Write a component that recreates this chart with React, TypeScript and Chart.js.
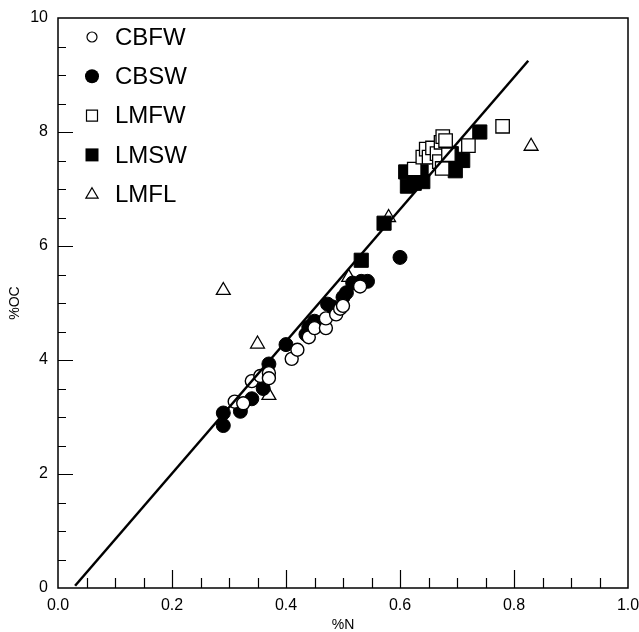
import React, { useEffect, useRef } from 'react';
import { Chart, registerables } from 'chart.js';

Chart.register(...registerables);

// ---- data ----
const seriesNames = ['CBFW', 'CBSW', 'LMFW', 'LMSW', 'LMFL'];

const cbfwX = [0.31, 0.325, 0.34, 0.355, 0.37, 0.37, 0.41, 0.42, 0.44, 0.45, 0.47, 0.47, 0.488, 0.495, 0.50, 0.53];
const cbfwY = [3.27, 3.24, 3.63, 3.72, 3.77, 3.68, 4.02, 4.18, 4.40, 4.56, 4.56, 4.73, 4.80, 4.90, 4.95, 5.29];

const cbswX = [0.29, 0.29, 0.32, 0.34, 0.36, 0.37, 0.40, 0.435, 0.44, 0.45, 0.46, 0.473, 0.482, 0.50, 0.506, 0.517, 0.532, 0.543, 0.60];
const cbswY = [2.85, 3.07, 3.10, 3.32, 3.50, 3.93, 4.27, 4.45, 4.58, 4.68, 4.65, 4.98, 4.93, 5.10, 5.18, 5.35, 5.38, 5.38, 5.80];

const lmfwX = [0.625, 0.64, 0.646, 0.651, 0.657, 0.665, 0.672, 0.675, 0.68, 0.669, 0.674, 0.685, 0.72, 0.78];
const lmfwY = [7.35, 7.56, 7.70, 7.56, 7.72, 7.62, 7.82, 7.92, 7.85, 7.48, 7.36, 7.60, 7.76, 8.10];

const lmswX = [0.532, 0.572, 0.61, 0.613, 0.625, 0.64, 0.637, 0.68, 0.69, 0.697, 0.70, 0.71, 0.74];
const lmswY = [5.75, 6.40, 7.30, 7.05, 7.10, 7.13, 7.30, 7.55, 7.62, 7.32, 7.52, 7.50, 8.00];

const lmflX = [0.29, 0.35, 0.37, 0.51, 0.58, 0.83];
const lmflY = [5.22, 4.28, 3.38, 5.45, 6.50, 7.75];

const fitX = [0.03, 0.825];
const fitY = [0.04, 9.25];

const xTickLabels = ['0.0', '0.2', '0.4', '0.6', '0.8', '1.0'];
const yTickLabels = ['0', '2', '4', '6', '8', '10'];

const FONT = '"Liberation Sans", Arial, Helvetica, sans-serif';

const zip = (xs: number[], ys: number[]) => xs.map((x, i) => ({ x, y: ys[i] }));

function drawMarker(ctx: CanvasRenderingContext2D, kind: string, x: number, y: number, s: number, filled: boolean) {
  ctx.beginPath();
  if (kind === 'circle') {
    ctx.arc(x, y, s, 0, Math.PI * 2);
  } else if (kind === 'rect') {
    ctx.rect(x - s, y - s, 2 * s, 2 * s);
  } else {
    const h = s * 1.732;
    ctx.moveTo(x, y - s);
    ctx.lineTo(x + h / 2 + 0.5, y + s * 0.6);
    ctx.lineTo(x - h / 2 - 0.5, y + s * 0.6);
    ctx.closePath();
  }
  if (filled) {
    ctx.fillStyle = '#000';
    ctx.fill();
  } else {
    ctx.fillStyle = '#fff';
    ctx.fill();
    ctx.lineWidth = 1.2;
    ctx.strokeStyle = '#000';
    ctx.stroke();
  }
}

const framePlugin = {
  id: 'frameTicks',
  beforeDatasetsDraw(chart: any) {
    const { ctx, chartArea } = chart;
    const { left, right, top, bottom } = chartArea;
    const xs = chart.scales.x;
    const ys = chart.scales.y;
    ctx.save();
    ctx.strokeStyle = '#000';
    ctx.lineWidth = 1.5;
    ctx.strokeRect(left, top, right - left, bottom - top);
    ctx.lineWidth = 1.2;
    ctx.beginPath();
    for (let i = 1; i < 20; i++) {
      const v = i * 0.05;
      const px = Math.round(xs.getPixelForValue(v)) + 0.5;
      const major = i % 4 === 0;
      ctx.moveTo(px, bottom);
      ctx.lineTo(px, bottom - (major ? 18 : 10));
    }
    for (let i = 1; i < 20; i++) {
      const v = i * 0.5;
      const py = Math.round(ys.getPixelForValue(v)) + 0.5;
      const major = i % 4 === 0;
      ctx.moveTo(left, py);
      ctx.lineTo(left + (major ? 15 : 8), py);
    }
    ctx.stroke();
    ctx.restore();
  },
  afterDraw(chart: any) {
    const { ctx, chartArea } = chart;
    const kinds = ['circle', 'circle', 'rect', 'rect', 'triangle'];
    const filled = [false, true, false, true, false];
    const sizes = [5, 7, 5.5, 6.5, 6.5];
    ctx.save();
    seriesNames.forEach((name, i) => {
      const y = chartArea.top + 19 + i * 39.3;
      const mx = chartArea.left + 34;
      drawMarker(ctx, kinds[i], mx, y, sizes[i], filled[i]);
      ctx.fillStyle = '#000';
      ctx.font = `24px ${FONT}`;
      ctx.textBaseline = 'middle';
      ctx.textAlign = 'left';
      ctx.fillText(name, chartArea.left + 57, y + 1);
    });
    ctx.restore();
  },
};

export default function App() {
  const ref = useRef<HTMLCanvasElement | null>(null);

  useEffect(() => {
    if (!ref.current) return;
    const chart = new Chart(ref.current, {
      type: 'scatter',
      data: {
        datasets: [
          {
            type: 'line',
            label: 'fit',
            data: zip(fitX, fitY),
            borderColor: '#000',
            borderWidth: 2.5,
            pointRadius: 0,
            fill: false,
          } as any,
          {
            label: seriesNames[0],
            data: zip(cbfwX, cbfwY),
            pointStyle: 'circle',
            pointRadius: 6.5,
            backgroundColor: '#fff',
            borderColor: '#000',
            borderWidth: 1.4,
          },
          {
            label: seriesNames[1],
            data: zip(cbswX, cbswY),
            pointStyle: 'circle',
            pointRadius: 7,
            backgroundColor: '#000',
            borderColor: '#000',
            borderWidth: 1,
          },
          {
            label: seriesNames[2],
            data: zip(lmfwX, lmfwY),
            pointStyle: 'rect',
            pointRadius: 9.5,
            backgroundColor: '#fff',
            borderColor: '#000',
            borderWidth: 1.3,
          },
          {
            label: seriesNames[3],
            data: zip(lmswX, lmswY),
            pointStyle: 'rect',
            pointRadius: 10,
            backgroundColor: '#000',
            borderColor: '#000',
            borderWidth: 1,
          },
          {
            label: seriesNames[4],
            data: zip(lmflX, lmflY),
            pointStyle: 'triangle',
            pointRadius: 8,
            backgroundColor: '#fff',
            borderColor: '#000',
            borderWidth: 1.3,
          },
        ],
      },
      options: {
        responsive: false,
        animation: false,
        devicePixelRatio: 1,
        layout: { padding: { left: 0, right: 10, top: 18, bottom: 0 } },
        plugins: {
          legend: { display: false },
          tooltip: { enabled: false },
        },
        scales: {
          x: {
            type: 'linear',
            min: 0,
            max: 1,
            grid: { display: false, drawTicks: false },
            border: { display: false },
            ticks: {
              stepSize: 0.2,
              padding: 8,
              color: '#000',
              font: { family: FONT, size: 16 },
              maxRotation: 0,
              callback: (v: any) => xTickLabels[Math.round(Number(v) / 0.2)] ?? '',
            },
            title: {
              display: true,
              text: '%N',
              color: '#000',
              font: { family: FONT, size: 14, lineHeight: 1 },
              padding: { top: 0, bottom: 0 },
            },
            afterFit: (scale: any) => {
              scale.height = 44;
              scale.paddingLeft = 0;
              scale.paddingRight = 0;
            },
          },
          y: {
            type: 'linear',
            min: 0,
            max: 10,
            grid: { display: false, drawTicks: false },
            border: { display: false },
            ticks: {
              stepSize: 2,
              padding: 10,
              color: '#000',
              font: { family: FONT, size: 16 },
              callback: (v: any) => yTickLabels[Math.round(Number(v) / 2)] ?? '',
            },
            title: {
              display: true,
              text: '%OC',
              color: '#000',
              font: { family: FONT, size: 14, lineHeight: 1 },
              padding: { top: 8, bottom: 0 },
            },
            afterFit: (scale: any) => {
              scale.width = 58;
              scale.paddingTop = 0;
              scale.paddingBottom = 0;
            },
          },
        },
      },
      plugins: [framePlugin],
    });
    return () => chart.destroy();
  }, []);

  return (
    <div style={{ position: 'fixed', left: 0, top: 0, width: 639, height: 632, background: '#fff' }}>
      <canvas ref={ref} width={639} height={632} style={{ display: 'block' }} />
    </div>
  );
}
